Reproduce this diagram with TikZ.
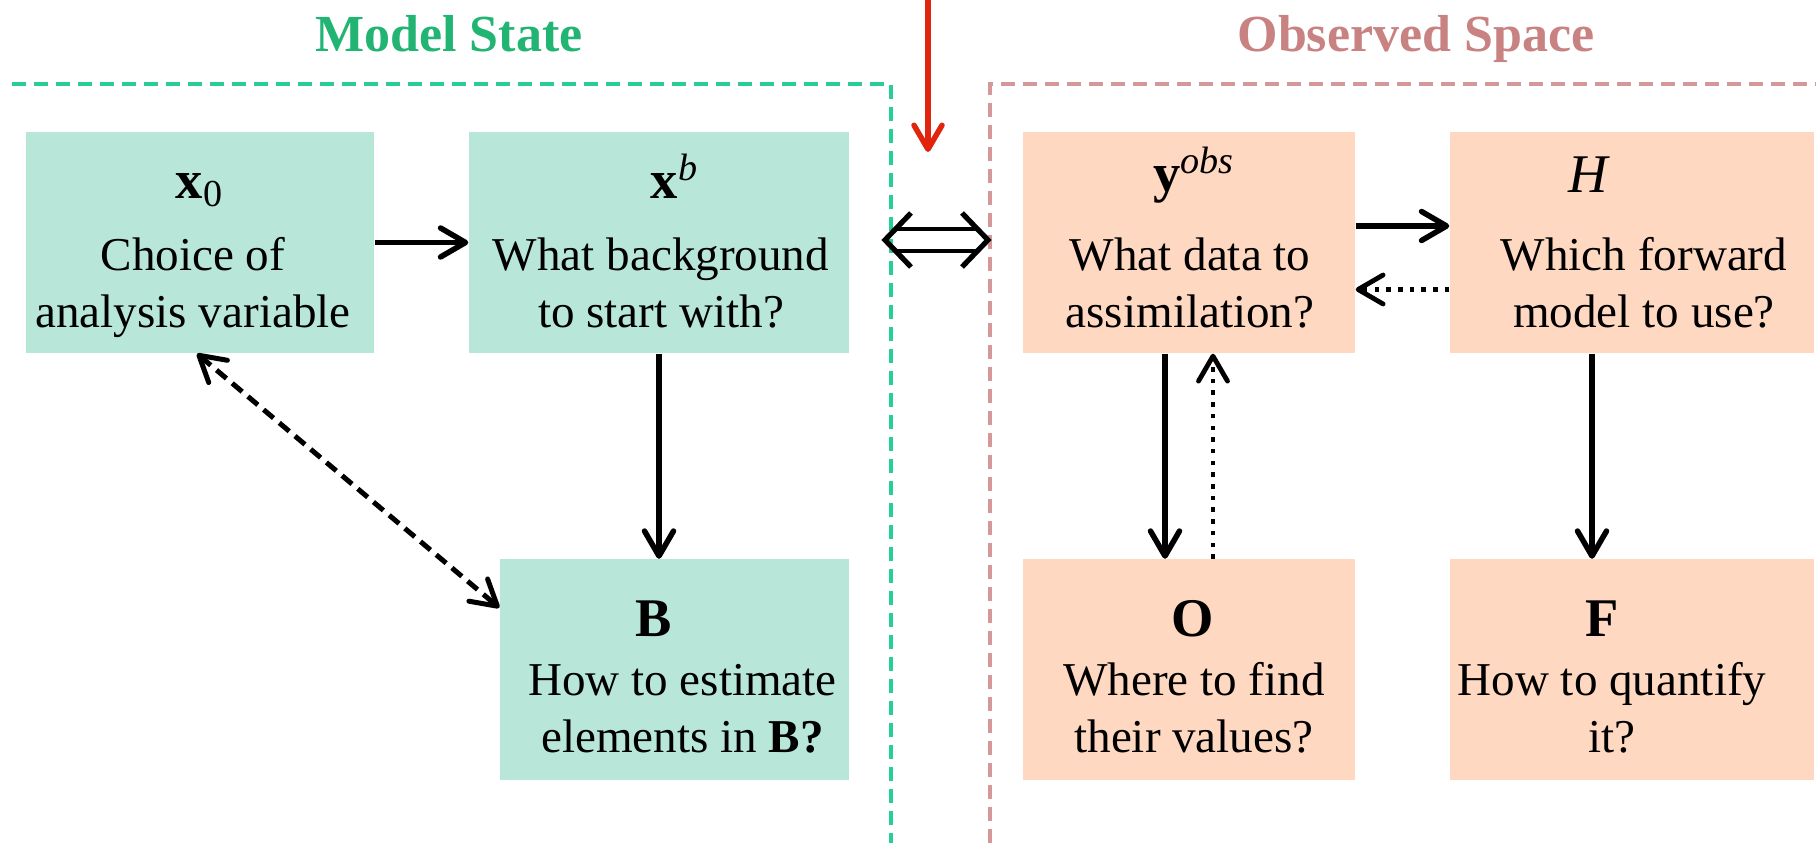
\documentclass[tikz,border=0pt]{standalone}
\usepackage{fontspec}
\setmainfont{Liberation Serif}
\usetikzlibrary{arrows.meta}
\definecolor{boxgreen}{HTML}{B8E7D9}
\definecolor{boxpeach}{HTML}{FFD8C1}
\definecolor{titlegreen}{HTML}{22B473}
\definecolor{titlerose}{HTML}{C88282}
\definecolor{linegreen}{HTML}{28CF94}
\definecolor{linerose}{HTML}{D49898}
\definecolor{arrowred}{HTML}{E0240E}
\tikzset{
  gbox/.style={fill=boxgreen, draw=none, inner sep=0pt, minimum height=22.1mm},
  pbox/.style={fill=boxpeach, draw=none, inner sep=0pt, minimum height=22.1mm},
  lab/.style={anchor=base, inner sep=0pt, font=\fontsize{15.5pt}{18pt}\selectfont},
  txt/.style={anchor=base, inner sep=0pt, font=\fontsize{13.4pt}{16.2pt}\selectfont},
  ttl/.style={anchor=base, inner sep=0pt, font=\fontsize{14.8pt}{17pt}\selectfont\bfseries},
  barb/.tip={Straight Barb[length=2.5mm,width=2.9mm,line cap=round,line join=round]},
  conn/.style={line width=0.55mm, -barb, line cap=butt},
  dotconn/.style={line width=0.48mm, -barb, dash pattern=on 0.45mm off 0.72mm},
  dashconn/.style={line width=0.5mm, barb-barb, dash pattern=on 1.3mm off 0.75mm},
  region/.style={line width=0.35mm, dash pattern=on 1.4mm off 0.8mm},
}
\newcommand{\twol}[2]{\begin{tabular}[t]{@{}c@{}}#1\\#2\end{tabular}}
\begin{document}
\begin{tikzpicture}[x=0.1mm,y=-0.1mm]
\useasboundingbox (0,0) rectangle (1816,843);

% titles
\node[ttl, text=titlegreen] (tms) at (449,52) {Model State};
\node[ttl, text=titlerose] (tos) at (1416,52) {Observed Space};

% regions
\draw[region, draw=linegreen] (12,84) -- (891,84) -- (891,843);
\draw[region, draw=linerose] (990,843) -- (990,84) -- (1816,84);

% boxes
\node[gbox, minimum width=34.8mm] (x0) at (200,242.5) {};
\node[gbox, minimum width=38.0mm] (xb) at (659,242.5) {};
\node[gbox, minimum width=34.9mm] (B) at (674.5,670) {};
\node[pbox, minimum width=33.2mm] (yo) at (1189,242.5) {};
\node[pbox, minimum width=33.2mm] (O) at (1189,670) {};
\node[pbox, minimum width=36.4mm] (H) at (1632,242.5) {};
\node[pbox, minimum width=36.4mm] (F) at (1632,670) {};

% labels
\node[lab] (lx0) at (200,199) {\textbf{x}\textsubscript{0}};
\node[lab] (lxb) at (675,199) {\textbf{x}\textsuperscript{\textit{b}}};
\node[lab] (lB) at (653.5,637) {\textbf{B}};
\node[lab] (lyo) at (1194,192) {\textbf{y}\textsuperscript{\textit{obs}}};
\node[lab] (lO) at (1193,637) {\textbf{O}};
\node[lab] (lH) at (1589,193) {\textit{H}};
\node[lab] (lF) at (1602,637) {\textbf{F}};

% texts
\node[txt] (tx0) at (193,271) {\twol{Choice of}{analysis variable}};
\node[txt] (txb) at (661,271) {\twol{What background}{to start with?}};
\node[txt] (tB) at (682.5,696) {\twol{How to estimate}{elements in \textbf{B?}}};
\node[txt] (tyo) at (1190,271) {\twol{What data to}{assimilation?}};
\node[txt] (tO) at (1194,696) {\twol{Where to find}{their values?}};
\node[txt] (tH) at (1644,271) {\twol{Which forward}{model to use?}};
\node[txt] (tF) at (1612,696) {\twol{How to quantify}{it?}};

% connectors
\draw[conn] (x0.east) -- (xb.west);
\draw[conn] (xb.south) -- (xb.south |- B.north);
\draw[dashconn] ([xshift=-0.3mm]x0.south) -- ([yshift=-4.9mm]B.north west);
\draw[conn] ([yshift=1.65mm]yo.east) -- ([yshift=1.65mm]H.west);
\draw[dotconn] ([yshift=-4.7mm]H.west) -- ([yshift=-4.7mm]yo.east);
\draw[conn] ([xshift=-2.4mm]yo.south) -- ([xshift=-2.4mm]O.north);
\draw[dotconn] ([xshift=2.4mm]O.north) -- ([xshift=2.4mm]yo.south);
\draw[conn] ([xshift=-4mm]H.south) -- ([xshift=-4mm]F.north);

% double arrow between spaces
\coordinate (dL) at (885,240);
\coordinate (dR) at (988,240);
\draw[line width=0.45mm] ([xshift=1.2mm,yshift=1.1mm]dL) -- ([xshift=-1.2mm,yshift=1.1mm]dR);
\draw[line width=0.45mm] ([xshift=1.2mm,yshift=-1.1mm]dL) -- ([xshift=-1.2mm,yshift=-1.1mm]dR);
\draw[line width=0.52mm, line join=miter] ([xshift=2.6mm,yshift=2.7mm]dL) -- (dL) -- ([xshift=2.6mm,yshift=-2.7mm]dL);
\draw[line width=0.52mm, line join=miter] ([xshift=-2.6mm,yshift=2.7mm]dR) -- (dR) -- ([xshift=-2.6mm,yshift=-2.7mm]dR);

% red arrow
\coordinate (rtop) at (928,0);
\coordinate (rtip) at (928,152);
\draw[arrowred, line width=0.55mm, -{Straight Barb[length=2.4mm,width=2.8mm,line cap=round,line join=round]}] (rtop) -- (rtip);
\end{tikzpicture}
\end{document}
